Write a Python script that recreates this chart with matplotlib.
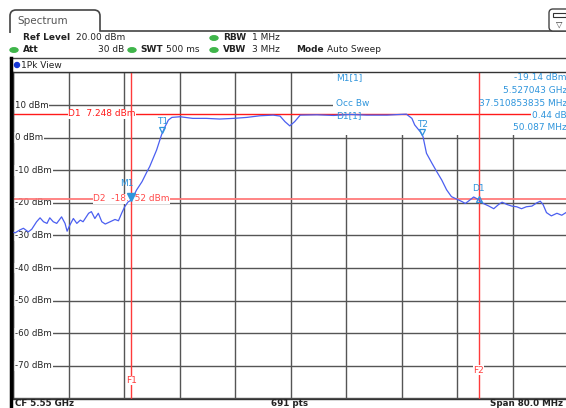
import numpy as np
import matplotlib.pyplot as plt
from matplotlib.patches import Rectangle, FancyBboxPatch, Ellipse, PathPatch
from matplotlib.path import Path
from matplotlib.transforms import offset_copy

# trace (frequency in MHz, level in dBm)
freq_mhz = [5510.0, 5510.3, 5511.0, 5511.5, 5512.2, 5512.7, 5513.4, 5513.9, 5514.4, 5514.9,
            5515.3, 5515.8, 5516.3, 5517.0, 5517.5, 5517.8, 5518.2, 5518.7, 5519.2, 5519.7,
            5520.1, 5520.9, 5521.3, 5521.8, 5522.3, 5522.8, 5523.3, 5524.0, 5524.7, 5525.2,
            5525.7, 5526.1, 5526.6, 5527.1, 5527.8, 5528.6, 5529.3, 5529.7, 5530.7, 5531.4,
            5531.9, 5532.4, 5532.9, 5534.1, 5535.9, 5537.9, 5539.8, 5541.8, 5543.7, 5545.6,
            5547.5, 5548.5, 5549.2, 5549.9, 5550.6, 5551.4, 5553.8, 5556.2, 5558.6, 5561.0,
            5563.9, 5566.7, 5567.5, 5567.9, 5568.7, 5569.1, 5569.6, 5570.4, 5571.1, 5571.8,
            5572.5, 5573.2, 5574.0, 5574.7, 5575.2, 5575.7, 5576.4, 5577.1, 5577.8, 5578.6,
            5579.3, 5580.0, 5580.5, 5581.2, 5581.9, 5582.6, 5583.3, 5584.0, 5584.8, 5585.5,
            5586.0, 5586.4, 5586.9, 5587.6, 5588.4, 5589.1, 5589.7]
level_dbm = [-29.0, -29.2, -28.3, -27.8, -28.9, -28.1, -25.8, -24.6, -25.8, -26.3,
             -24.6, -25.8, -26.3, -24.3, -26.3, -28.7, -26.8, -24.8, -26.3, -25.3,
             -25.8, -23.2, -22.7, -24.8, -23.2, -25.8, -26.5, -25.8, -25.1, -25.5,
             -23.0, -21.2, -19.7, -19.1, -16.1, -13.5, -10.5, -8.9, -3.8, 0.8,
             3.3, 5.4, 6.2, 6.4, 5.9, 5.9, 5.7, 5.9, 6.2, 6.7,
             6.9, 6.6, 4.9, 3.6, 4.9, 6.9, 7.0, 6.8, 7.1, 6.9,
             6.9, 7.2, 5.9, 3.9, 1.8, 0.3, -4.8, -7.9, -10.5, -13.0,
             -16.0, -18.1, -18.9, -19.6, -20.2, -19.4, -18.2, -19.0, -20.2, -21.0,
             -21.8, -20.5, -19.8, -20.5, -21.0, -21.2, -21.8, -21.2, -21.0, -20.0,
             -19.5, -20.5, -23.0, -24.0, -23.2, -23.8, -23.0]

# instrument settings
ref_level = 20.0
cf_mhz = 5550.0
span_mhz = 80.0
n_pts = 691
y_ticks = [10, 0, -10, -20, -30, -40, -50, -60, -70]

# markers / display lines
m1_freq = 5527.043
m1_level = -19.14
d1_offset = 50.087
d1_delta = 0.44
occ_bw = 37.510853835
t1_freq = 5531.5
t2_freq = t1_freq + occ_bw
d1_line = 7.248
d2_line = -18.752
f1_freq = m1_freq
f2_freq = m1_freq + d1_offset

# colours
trace_col = '#4b5ff0'
mk_col = '#2f95dc'
red = '#ff1a1a'
grid_col = '#555555'

W, H = 566, 408
fig = plt.figure(figsize=(W / 100, H / 100), dpi=100)

# plot area in screen pixels
px_l, px_r, px_t, px_b = 13, 568, 72.4, 398.5
ax = fig.add_axes([px_l / W, 1 - px_b / H, (px_r - px_l) / W, (px_b - px_t) / H])
fmin, fmax = cf_mhz - span_mhz / 2, cf_mhz + span_mhz / 2
ax.set_xlim(fmin, fmax)
ax.set_ylim(ref_level - 100, ref_level)
ax.set_xticks(np.linspace(fmin, fmax, 11))
ax.set_yticks(np.arange(ref_level - 100, ref_level + 1, 10))
ax.tick_params(length=0, labelbottom=False, labelleft=False)
ax.set_axisbelow(True)
ax.grid(True, color=grid_col, lw=1.0)
for s in ax.spines.values():
    s.set_color('#333333')
    s.set_linewidth(1.0)


def px2f(x):
    return fmin + (x - px_l) * span_mhz / (px_r - px_l)


# white area behind the marker table
ax.add_patch(Rectangle((px2f(333), 0.7), fmax - px2f(333), ref_level - 0.7,
                       fc='white', ec='none', zorder=1))

# level labels inside the grid
for v in y_ticks:
    ax.text(px2f(15), v, f'{v} dBm', ha='left', va='center', fontsize=6.2,
            color='#222222', zorder=1.5,
            bbox=dict(fc='white', ec='none', pad=0.6))

# display lines
ax.axhline(d1_line, color=red, lw=1.0, zorder=2)
ax.axhline(d2_line, color='#ff7b7b', lw=1.3, zorder=2)
ax.text(px2f(68), d1_line, f'D1  {d1_line} dBm', color=red, fontsize=6.5,
        ha='left', va='center', zorder=2.1, bbox=dict(fc='white', ec='none', pad=0.3))
ax.text(px2f(93), d2_line, f'D2  {d2_line} dBm', color='#ff4a4a', fontsize=6.5,
        ha='left', va='center', zorder=2.1, bbox=dict(fc='white', ec='none', pad=0.3))

# frequency lines
for f, lab, ylab in [(f1_freq, 'F1', -74.5), (f2_freq, 'F2', -71.3)]:
    ax.axvline(f, color='#ff3b3b', lw=1.0, zorder=2.5)
    ax.text(f, ylab, lab, color='#ff3b3b', fontsize=6.5, ha='center', va='center',
            zorder=2.6, bbox=dict(fc='white', ec='none', pad=0.2))

# trace
ax.plot(freq_mhz, level_dbm, color=trace_col, lw=0.9, zorder=3)

# markers
tip = offset_copy(ax.transData, fig=fig, y=3.5, units='dots')
ax.plot([m1_freq], [m1_level], marker='v', ms=6, color=mk_col, ls='none',
        transform=tip, zorder=4)
ax.annotate('M1', (m1_freq, m1_level), xytext=(-3, 9), textcoords='offset points',
            color=mk_col, fontsize=6.5, ha='center', va='bottom', zorder=4)
for f, lab in [(t1_freq, 'T1'), (t2_freq, 'T2')]:
    lv = np.interp(f, freq_mhz, level_dbm)
    ax.plot([f], [lv], marker='v', ms=5, mfc='none', mec=mk_col, mew=0.9, ls='none',
            transform=tip, zorder=4)
    ax.annotate(lab, (f, lv), xytext=(0, 5), textcoords='offset points',
                color=mk_col, fontsize=6.5, ha='center', va='bottom', zorder=4)
d1_lv = m1_level + d1_delta
ax.plot([f2_freq], [d1_lv], marker='^', ms=5, mfc='none', mec=mk_col, mew=0.9, ls='none',
        zorder=4)
ax.annotate('D1', (f2_freq, d1_lv), xytext=(0, 4), textcoords='offset points',
            color=mk_col, fontsize=6.5, ha='center', va='bottom', zorder=4)

# overlay in screen pixels for the instrument chrome
ov = fig.add_axes([0, 0, 1, 1], zorder=5)
ov.set_xlim(0, W)
ov.set_ylim(H, 0)
ov.axis('off')

# tab "Spectrum"
verts = [(10, 33), (10, 16), (10, 10), (16, 10), (94, 10), (100, 10), (100, 16),
         (100, 31), (W + 5, 31)]
codes = [Path.MOVETO, Path.LINETO, Path.CURVE3, Path.CURVE3, Path.LINETO, Path.CURVE3,
         Path.CURVE3, Path.LINETO, Path.LINETO]
ov.add_patch(PathPatch(Path(verts, codes), fc='none', ec='#444444', lw=1.2))
ov.text(17, 21, 'Spectrum', fontsize=7.5, color='#555555', va='center', ha='left')

# icon top right
ov.add_patch(FancyBboxPatch((549, 9), 30, 22, boxstyle='round,pad=0,rounding_size=4',
                            fc='white', ec='#444444', lw=1.0))
ov.add_patch(Rectangle((553, 13), 13, 4, fc='white', ec='#333333', lw=0.8))
ov.text(559, 24, '▽', fontsize=6, ha='center', va='center', color='#333333')

green = '#3fb54a'
hdr = dict(fontsize=6.5, va='center', color='#222222')
ov.text(23, 38, 'Ref Level', fontweight='bold', **hdr)
ov.text(76, 38, '20.00 dBm', **hdr)
ov.add_patch(Ellipse((214, 38), 8, 4.5, color=green))
ov.text(223, 38, 'RBW', fontweight='bold', **hdr)
ov.text(252, 38, '1 MHz', **hdr)

ov.add_patch(Ellipse((14, 50), 8, 4.5, color=green))
ov.text(23, 50, 'Att', fontweight='bold', **hdr)
ov.text(124, 50, '30 dB', ha='right', fontsize=6.5, va='center', color='#222222')
ov.add_patch(Ellipse((132, 50), 8, 4.5, color=green))
ov.text(140, 50, 'SWT', fontweight='bold', **hdr)
ov.text(166, 50, '500 ms', **hdr)
ov.add_patch(Ellipse((214, 50), 8, 4.5, color=green))
ov.text(223, 50, 'VBW', fontweight='bold', **hdr)
ov.text(252, 50, '3 MHz', **hdr)
ov.text(296, 50, 'Mode', fontweight='bold', **hdr)
ov.text(327, 50, 'Auto Sweep', **hdr)

ov.plot([10, W + 5], [58, 58], color='#444444', lw=1.0)
ov.plot([10.5, 10.5], [58, H + 2], color='black', lw=2.5)
ov.add_patch(Ellipse((17, 65), 5, 5, color='#1537d6'))
ov.text(21, 65, '1Pk View', **hdr)

# marker table
tab = dict(fontsize=6.5, va='center', color=mk_col)
ov.text(336, 78, 'M1[1]', **tab)
ov.text(567, 78, f'{m1_level:.2f} dBm', ha='right', **tab)
ov.text(567, 90.5, f'{m1_freq / 1000:.6f} GHz', ha='right', **tab)
ov.text(336, 103, 'Occ Bw', **tab)
ov.text(567, 103, f'{occ_bw:.9f} MHz', ha='right', **tab)
ov.text(336, 116, 'D1[1]', **tab)
ov.text(567, 116, f'{d1_delta:.2f} dB', ha='right',
        bbox=dict(fc='white', ec='none', pad=0.8), **tab)
ov.text(567, 128, f'{d1_offset:.3f} MHz', ha='right', **tab)

# footer
ft = dict(fontsize=6.3, va='center', color='#222222', fontweight='bold')
ov.text(15, 403, f'CF {cf_mhz / 1000:.2f} GHz', ha='left', **ft)
ov.text(290, 403, f'{n_pts} pts', ha='center', **ft)
ov.text(563, 403, f'Span {span_mhz:.1f} MHz', ha='right', **ft)

fig.savefig('out.png', dpi=100)
